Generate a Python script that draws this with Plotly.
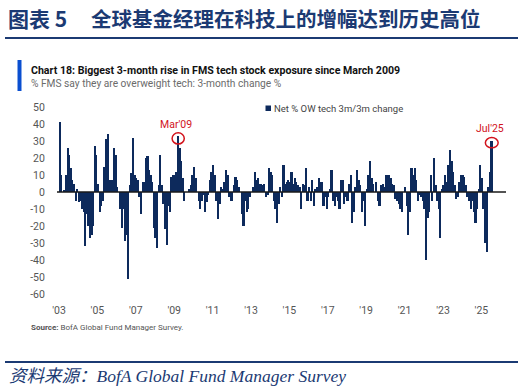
import plotly.graph_objects as go

# ---------------- data (monthly, Jan 2003 - Jul 2025) ----------------
v2003 = [41, 10, 0, 1, 10, 26, 22, 14, 7, 5, -5, 2]
v2004 = [-6, -5, -10, -12, -32, -13, -20, -27, -25, -20, 27, 22]
v2005 = [5, -12, -8, -5, 15, 31, 34, 7, 7, 7, 26, 22]
v2006 = [3, 0, -10, -21, -10, -29, -25, -51, 4, 11, 32, 10]
v2007 = [8, 7, -3, -13, 6, 6, 20, 21, 13, 10, 6, -21]
v2008 = [-27, -33, 4, 22, 4, -7, -22, -31, -8, -12, 9, 10]
v2009 = [10, 12, 33, 26, 18, 8, -5, 0, 0, 2, 4, 10]
v2010 = [15, 8, 0, -5, -10, -5, -2, -12, -6, -2, 7, 12]
v2011 = [16, 10, -5, -16, -7, 3, 2, 6, 13, 10, -3, -5]
v2012 = [-5, 4, 9, 7, 3, 0, -13, -20, -5, -12, -10, -3]
v2013 = [0, 3, 12, 7, 8, 5, 5, 4, 5, -3, -2, 14]
v2014 = [12, 10, -5, -10, -18, -7, 3, -3, 16, 5, 6, 7]
v2015 = [6, 12, 5, 8, 6, 4, 3, -10, 5, 4, 14, -5]
v2016 = [3, -5, 7, -8, 2, 3, 8, 6, 6, -8, -3, -10]
v2017 = [-3, 2, 13, -5, -8, -3, -5, -10, 7, 7, -7, -3]
v2018 = [-5, 5, 10, -18, -12, 3, 13, 7, 4, -12, -5, -20]
v2019 = [2, 10, 18, 8, 5, 0, 6, -5, -8, 4, 5, 3]
v2020 = [10, 10, 10, 8, 5, 4, -4, -5, -7, -10, -12, 0]
v2021 = [3, -8, -25, -12, 14, 10, 14, 7, -5, -2, -3, -5]
v2022 = [-10, -40, -15, -12, 10, -5, 20, 4, -5, -10, -27, 2]
v2023 = [4, 10, 6, 16, 25, 18, 12, 4, -4, -3, 6, 10]
v2024 = [10, 9, 4, -3, -5, -10, -5, -12, -18, -10, 2, 16]
v2025 = [8, -10, -30, -35, 3, 12, 30]

tick_years = ["'03", "'05", "'07", "'09", "'11", "'13", "'15", "'17", "'19", "'21", "'23", "'25"]
y_ticks = [50, 40, 30, 20, 10, 0, -10, -20, -30, -40, -50, -60]

series = (v2003 + v2004 + v2005 + v2006 + v2007 + v2008 + v2009 + v2010 + v2011 +
          v2012 + v2013 + v2014 + v2015 + v2016 + v2017 + v2018 + v2019 + v2020 +
          v2021 + v2022 + v2023 + v2024 + v2025)
months = [i + 0.5 for i in range(len(series))]

# ---------------- layout helpers (reference pixel coordinates) ----------------
W, H = 524, 390
PL, PR, PT, PB = 57, 506, 107, 294
XMIN, XMAX = -1.25, 279.4


def px(x):
    return (x - PL) / (PR - PL)


def py(y):
    return (PB - y) / (PB - PT)


NAVY = "#0d2a5c"
DARKBLUE = "#1b3a73"
RED = "#d2121b"
SANS = "Liberation Sans Narrow, Roboto, Arial, sans-serif"

fig = go.Figure()
fig.add_trace(go.Bar(x=months, y=series, width=1.0, marker_color=NAVY,
                     marker_line_width=0, showlegend=False,
                     name="Net % OW tech 3m/3m change"))

shapes = [
    dict(type="line", xref="x", yref="y", x0=XMIN, x1=XMAX, y0=0, y1=0,
         line=dict(color="#1a1a1a", width=1.5), layer="above"),
    dict(type="circle", xref="x", yref="y", x0=74.5 - 3.8, x1=74.5 + 3.8,
         y0=31.5 - 3.3, y1=31.5 + 3.3, line=dict(color=RED, width=1.5)),
    dict(type="circle", xref="x", yref="y", x0=270.5 - 4.0, x1=270.5 + 4.0,
         y0=29 - 3.0, y1=29 + 3.0, line=dict(color=RED, width=1.5)),
    dict(type="line", xref="paper", yref="paper", x0=px(5), x1=px(518), y0=py(38), y1=py(38),
         line=dict(color=DARKBLUE, width=2)),
    dict(type="line", xref="paper", yref="paper", x0=px(5), x1=px(518), y0=py(362), y1=py(362),
         line=dict(color=DARKBLUE, width=2)),
    dict(type="rect", xref="paper", yref="paper", x0=px(17.5), x1=px(21.5), y0=py(91), y1=py(60),
         fillcolor="#0a4fd0", line=dict(width=0)),
    dict(type="rect", xref="paper", yref="paper", x0=px(265.5), x1=px(271), y0=py(111), y1=py(105.5),
         fillcolor=NAVY, line=dict(width=0)),
]


def note(text, x, y, font, anchor="left"):
    return dict(text=text, x=px(x), y=py(y), xref="paper", yref="paper",
                xanchor=anchor, yanchor="middle", showarrow=False, font=font)


annotations = [
    note("<b>图表 5</b>", 6, 18, dict(family="Noto Sans CJK SC", size=21, color=DARKBLUE)),
    note("<b>全球基金经理在科技上的增幅达到历史高位</b>", 89, 18,
         dict(family="Noto Sans CJK SC", size=20.5, color=DARKBLUE)),
    note("<b>Chart 18: Biggest 3-month rise in FMS tech stock exposure since March 2009</b>", 29, 70,
         dict(family=SANS, size=10.6, color="#111111")),
    note("% FMS say they are overweight tech: 3-month change %", 29, 83.5,
         dict(family=SANS, size=10.2, color="#6b6b6b")),
    note("Net % OW tech 3m/3m change", 272, 108.5,
         dict(family=SANS, size=9.5, color="#444444")),
    note("<b>Source:</b> BofA Global Fund Manager Survey.", 29, 327,
         dict(family=SANS, size=8, color="#555555")),
    note("<i>资料来源：BofA Global Fund Manager Survey</i>", 7, 376,
         dict(family="Liberation Serif, Noto Sans CJK SC, serif", size=17.5, color=DARKBLUE)),
    dict(text="Mar'09", x=73.2, y=39.5, xref="x", yref="y", xanchor="center", yanchor="middle",
         showarrow=False, font=dict(family=SANS, size=10.5, color=RED)),
    dict(text="Jul'25", x=269.7, y=37.2, xref="x", yref="y", xanchor="center", yanchor="middle",
         showarrow=False, font=dict(family=SANS, size=10.5, color=RED)),
]

fig.update_layout(
    width=W, height=H, autosize=False,
    margin=dict(l=PL, r=W - PR, t=PT, b=H - PB, pad=0),
    paper_bgcolor="white", plot_bgcolor="white",
    bargap=0,
    shapes=shapes, annotations=annotations,
    xaxis=dict(range=[XMIN, XMAX], tickvals=list(range(0, 265, 24)), ticktext=tick_years,
               showgrid=False, zeroline=False, showline=False, automargin=False,
               ticks="outside", ticklen=6, tickcolor="rgba(0,0,0,0)",
               tickfont=dict(family=SANS, size=10.5, color="#555555")),
    yaxis=dict(range=[-60, 50], tickvals=y_ticks, ticktext=[str(t) for t in y_ticks],
               showgrid=False, zeroline=False, showline=False, automargin=False,
               ticks="outside", ticklen=9, tickcolor="rgba(0,0,0,0)",
               tickfont=dict(family=SANS, size=10.5, color="#555555")),
    showlegend=False,
)

fig.write_html("out.html", config={"displayModeBar": False},
               post_script="document.body.style.margin='0';document.body.style.overflow='hidden';")
